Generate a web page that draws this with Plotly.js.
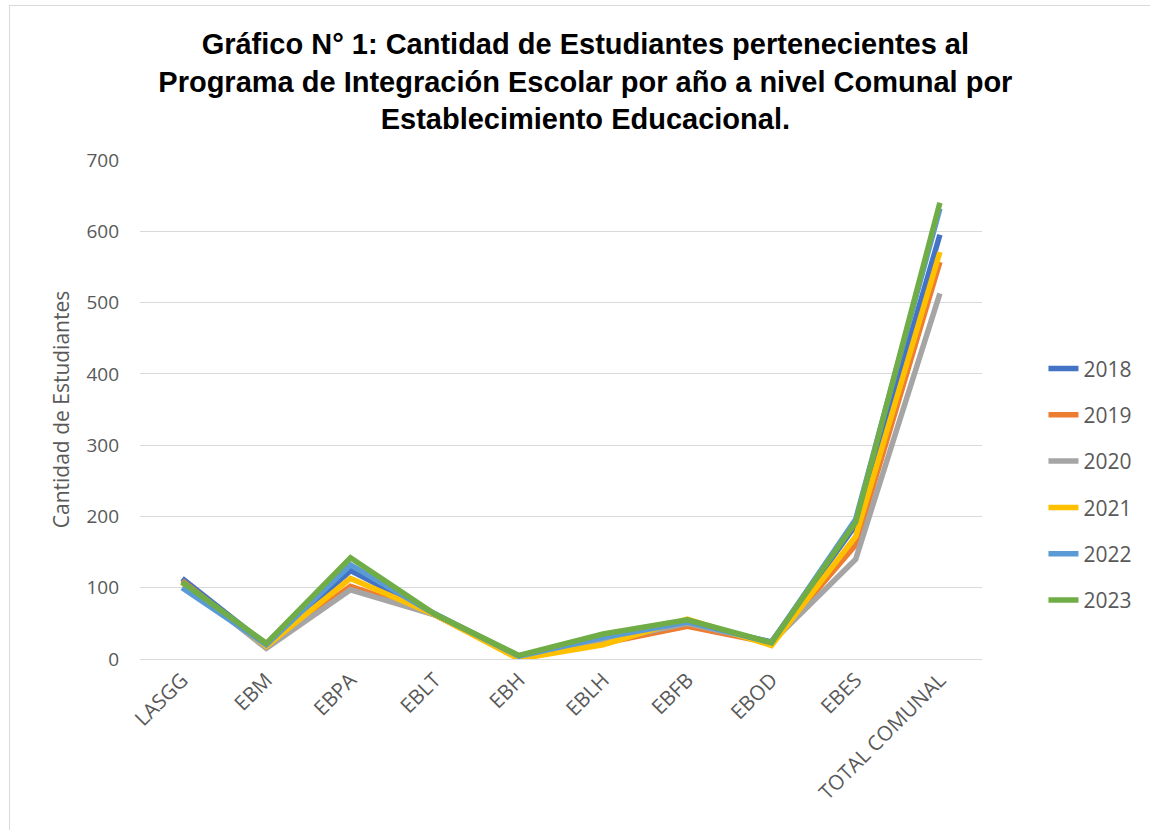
<!DOCTYPE html>
<html><head><meta charset="utf-8">
<script src="https://cdn.plot.ly/plotly-3.0.1.min.js"></script>
<style>body{margin:0;background:#fff}#frame{position:absolute;left:9px;top:5px;width:1160px;height:840px;border:1px solid #d9d9d9}#chart{position:absolute;left:0;top:0;width:1150px;height:830px}</style>
</head><body><div id="frame"></div><div id="chart"></div>
<script>
const categories = ["LASGG","EBM","EBPA","EBLT","EBH","EBLH","EBFB","EBOD","EBES","TOTAL COMUNAL"];
const years = ["2018","2019","2020","2021","2022","2023"];
const v2018 = [113, 20, 124, 64, 3, 28, 50, 24, 188, 595];
const v2019 = [110, 18, 102, 62, 2, 22, 46, 22, 160, 557];
const v2020 = [108, 15, 97, 62, 3, 25, 50, 23, 140, 513];
const v2021 = [107, 18, 113, 62, 0, 20, 56, 19, 172, 571];
const v2022 = [100, 20, 132, 63, 4, 30, 52, 23, 196, 632];
const v2023 = [108, 22, 142, 63, 5, 35, 55, 23, 192, 640];
const colors = ["#4472c4","#ed7d31","#a5a5a5","#ffc000","#5b9bd5","#70ad47"];
const series = [v2018, v2019, v2020, v2021, v2022, v2023];
const traces = series.map((v,i)=>({x:categories,y:v,name:years[i],legendgroup:years[i],type:"scatter",mode:"lines",line:{color:colors[i],width:5.5}}));
const layout = {
  width:1150,height:830,paper_bgcolor:"rgba(0,0,0,0)",plot_bgcolor:"rgba(0,0,0,0)",
  margin:{l:140,r:166,t:160,b:171},
  title:{text:"<b>Gráfico N° 1: Cantidad de Estudiantes pertenecientes al<br>Programa de Integración Escolar por año a nivel Comunal por<br>Establecimiento Educacional.</b>",font:{family:"Liberation Sans, Arial",size:29,color:"#000"},x:0.509,xanchor:"center",y:0.935,yanchor:"top"},
  xaxis:{tickangle:-45,tickfont:{family:"Open Sans, Calibri",size:20.5,color:"#595959"},showgrid:false,showline:true,linecolor:"#d9d9d9",linewidth:1,ticks:"",range:[-0.5,9.5]},
  yaxis:{range:[0,700],dtick:100,tickfont:{family:"Open Sans, Calibri",size:19,color:"#595959"},gridcolor:"#d9d9d9",gridwidth:1,zeroline:false,ticks:"",ticklen:0,ticklabelstandoff:20,
    title:{text:"Cantidad de Estudiantes",font:{family:"Open Sans, Calibri",size:21,color:"#595959"},standoff:11}},
  legend:{x:1.073,y:0.35,xanchor:"left",yanchor:"middle",font:{family:"Open Sans, Calibri",size:21,color:"#595959"},tracegroupgap:16},
  showlegend:true
};
Plotly.newPlot("chart",traces,layout,{displayModeBar:false});
</script></body></html>
